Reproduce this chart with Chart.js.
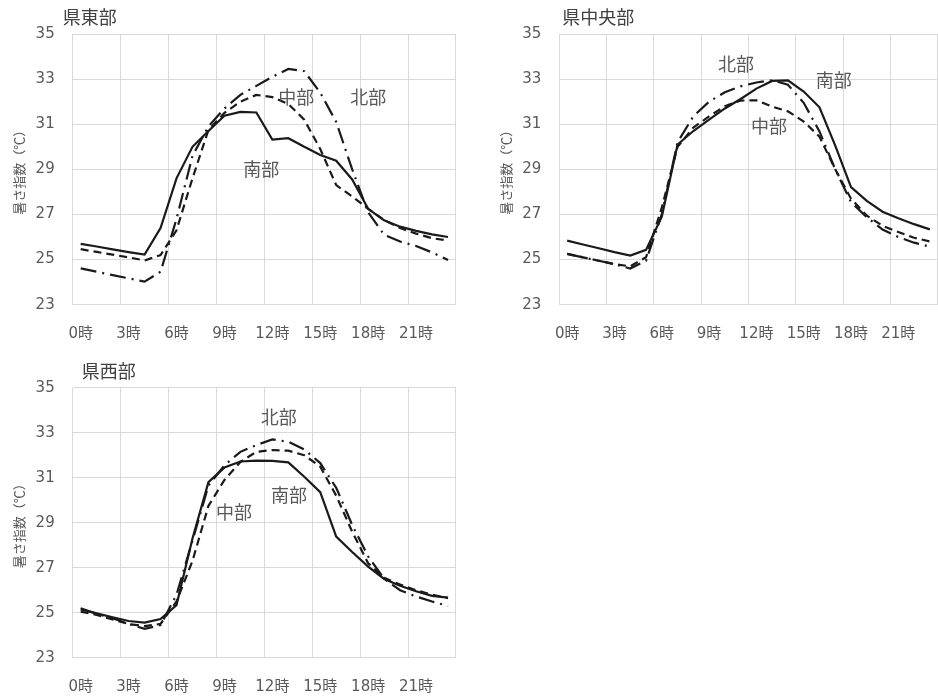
<!DOCTYPE html>
<html lang="ja">
<head>
<meta charset="utf-8">
<script src="https://cdn.jsdelivr.net/npm/chart.js@4.4.1/dist/chart.umd.min.js"></script>
<style>
html, body { margin: 0; padding: 0; background: #fff; overflow: hidden; width: 938px; height: 698px; }
canvas { position: absolute; }
#c1 { left: 0; top: 0; }
#c2 { left: 470px; top: 0; }
#c3 { left: 0; top: 340px; }
</style>
</head>
<body>
<canvas id="c1" width="470" height="340"></canvas>
<canvas id="c2" width="480" height="340"></canvas>
<canvas id="c3" width="470" height="358"></canvas>
<script>
// ---- data ----
const hourLabels = ['0時','1時','2時','3時','4時','5時','6時','7時','8時','9時','10時','11時',
                    '12時','13時','14時','15時','16時','17時','18時','19時','20時','21時','22時','23時'];
const yTicks = [23, 25, 27, 29, 31, 33, 35];
const seriesNames = ['南部', '中部', '北部'];

// 県東部
const eastSouth   = [25.7, 25.58, 25.45, 25.33, 25.22, 26.4, 28.6, 30.0, 30.7, 31.38, 31.55, 31.52,
                     30.32, 30.38, 30.0, 29.64, 29.38, 28.55, 27.25, 26.74, 26.46, 26.27, 26.12, 26.0];
const eastCentral = [25.46, 25.34, 25.22, 25.1, 24.96, 25.2, 26.3, 28.6, 30.75, 31.5, 32.0, 32.3,
                     32.2, 31.9, 31.2, 29.9, 28.3, 27.8, 27.25, 26.75, 26.4, 26.15, 25.95, 25.84];
const eastNorth   = [24.61, 24.46, 24.31, 24.17, 24.02, 24.46, 26.8, 29.6, 30.9, 31.7, 32.3, 32.7,
                     33.1, 33.45, 33.35, 32.4, 31.1, 29.0, 27.1, 26.1, 25.8, 25.6, 25.32, 24.98];

// 県中央部
const midSouth   = [25.84, 25.67, 25.5, 25.33, 25.18, 25.43, 26.9, 30.1, 30.7, 31.2, 31.7, 32.12,
                    32.58, 32.92, 32.94, 32.45, 31.75, 30.05, 28.21, 27.6, 27.12, 26.83, 26.57, 26.34];
const midCentral = [25.25, 25.1, 24.95, 24.8, 24.7, 25.1, 27.3, 30.0, 30.85, 31.35, 31.8, 32.05,
                    32.06, 31.78, 31.57, 31.12, 30.45, 29.0, 27.7, 26.95, 26.5, 26.22, 25.97, 25.8];
const midNorth   = [25.25, 25.1, 24.95, 24.8, 24.6, 24.95, 27.0, 30.2, 31.35, 32.0, 32.42, 32.68,
                    32.85, 32.95, 32.75, 31.95, 30.68, 29.0, 27.55, 26.88, 26.33, 26.0, 25.75, 25.57];

// 県西部
const westSouth   = [25.15, 24.97, 24.8, 24.63, 24.56, 24.72, 25.34, 28.3, 30.8, 31.45, 31.72, 31.76,
                     31.75, 31.68, 31.04, 30.36, 28.38, 27.7, 27.05, 26.5, 26.2, 25.95, 25.75, 25.67];
const westCentral = [25.05, 24.9, 24.7, 24.5, 24.4, 24.5, 25.5, 27.3, 29.75, 30.9, 31.7, 32.15,
                     32.23, 32.2, 32.0, 31.49, 30.2, 28.6, 27.2, 26.55, 26.25, 26.0, 25.8, 25.65];
const westNorth   = [25.2, 24.95, 24.75, 24.5, 24.28, 24.45, 25.8, 28.2, 30.65, 31.55, 32.15, 32.45,
                     32.7, 32.6, 32.25, 31.65, 30.55, 28.9, 27.5, 26.5, 26.0, 25.72, 25.5, 25.3];

// in-chart series labels: [text, hour position, value position]
const eastNotes = [['中部', 13.5, 32.2], ['北部', 18.0, 32.2], ['南部', 11.3, 29.0]];
const midNotes  = [['北部', 10.7, 33.68], ['南部', 16.9, 32.94], ['中部', 12.8, 30.93]];
const westNotes = [['北部', 12.4, 33.68], ['南部', 13.05, 30.23], ['中部', 9.6, 29.49]];

// ---- styles ----
const GRID = '#d9d9d9';
const TEXT = '#595959';
const LINE = '#1a1a1a';
const TICK_FONT = { family: "'DejaVu Sans', 'Noto Sans CJK JP', sans-serif", size: 15 };
const CJK_FONT = "'Noto Sans CJK JP', sans-serif";
const dashStyles = [[], [8, 5], [16, 6, 2, 6]];

const notesPlugin = {
  id: 'notes',
  afterDatasetsDraw(chart, args, opts) {
    const { ctx, chartArea, scales: { x, y } } = chart;
    ctx.save();
    ctx.font = '18px ' + CJK_FONT;
    ctx.fillStyle = TEXT;
    ctx.textAlign = 'center';
    ctx.textBaseline = 'middle';
    opts.notes.forEach(([t, h, v]) => {
      ctx.fillText(t, x.getPixelForValue(h), y.getPixelForValue(v));
    });
    ctx.fillStyle = '#404040';
    ctx.textAlign = 'left';
    ctx.fillText(opts.title, chartArea.left + opts.titleDx, chartArea.top - 17);
    ctx.restore();
  }
};

function makeChart(id, title, s, c, n, notes, cfg) {
  const datasets = [s, c, n].map((d, i) => ({
    label: seriesNames[i],
    data: d,
    borderColor: LINE,
    backgroundColor: LINE,
    borderWidth: 2.2,
    borderDash: dashStyles[i],
    pointRadius: 0,
    tension: 0,
    fill: false
  }));
  return new Chart(document.getElementById(id), {
    type: 'line',
    data: { labels: hourLabels, datasets },
    plugins: [notesPlugin],
    options: {
      responsive: false,
      animation: false,
      devicePixelRatio: 1,
      layout: { padding: { top: cfg.top, right: cfg.right, left: 0, bottom: 0 } },
      plugins: {
        legend: { display: false },
        tooltip: { enabled: false },
        notes: { notes, title, titleDx: cfg.titleDx }
      },
      scales: {
        x: {
          type: 'category',
          offset: true,
          afterFit: sc => { sc.height = cfg.xh; },
          grid: {
            offset: true,
            drawTicks: false,
            color: ctx => (ctx.type !== 'tick' || ctx.index % 3 === 0) ? GRID : 'rgba(0,0,0,0)',
            lineWidth: 1
          },
          border: { display: false },
          ticks: {
            autoSkip: false,
            maxRotation: 0,
            minRotation: 0,
            padding: 20,
            color: TEXT,
            font: TICK_FONT,
            callback: (v, i) => (i % 3 === 0 ? hourLabels[i] : '')
          }
        },
        y: {
          min: 23,
          max: 35,
          afterFit: sc => { sc.width = cfg.yw; },
          afterBuildTicks: sc => { sc.ticks = yTicks.map(v => ({ value: v })); },
          grid: { color: GRID, drawTicks: false, lineWidth: 1 },
          border: { display: false },
          ticks: { padding: 18, color: TEXT, font: TICK_FONT },
          title: {
            display: true,
            text: '暑さ指数（℃）',
            color: TEXT,
            font: { family: CJK_FONT, size: 13 },
            padding: { top: cfg.titlePad, bottom: 0 }
          }
        }
      }
    }
  });
}

makeChart('c1', '県東部', eastSouth, eastCentral, eastNorth, eastNotes,
  { top: 34, right: 14, xh: 35.3, yw: 72.7, titlePad: 11, titleDx: -10 });
makeChart('c2', '県中央部', midSouth, midCentral, midNorth, midNotes,
  { top: 34, right: 7, xh: 35.3, yw: 89.3, titlePad: 28, titleDx: 3 });
makeChart('c3', '県西部', westSouth, westCentral, westNorth, westNotes,
  { top: 47.7, right: 14, xh: 40.3, yw: 72.7, titlePad: 11, titleDx: 9 });
</script>
</body>
</html>
